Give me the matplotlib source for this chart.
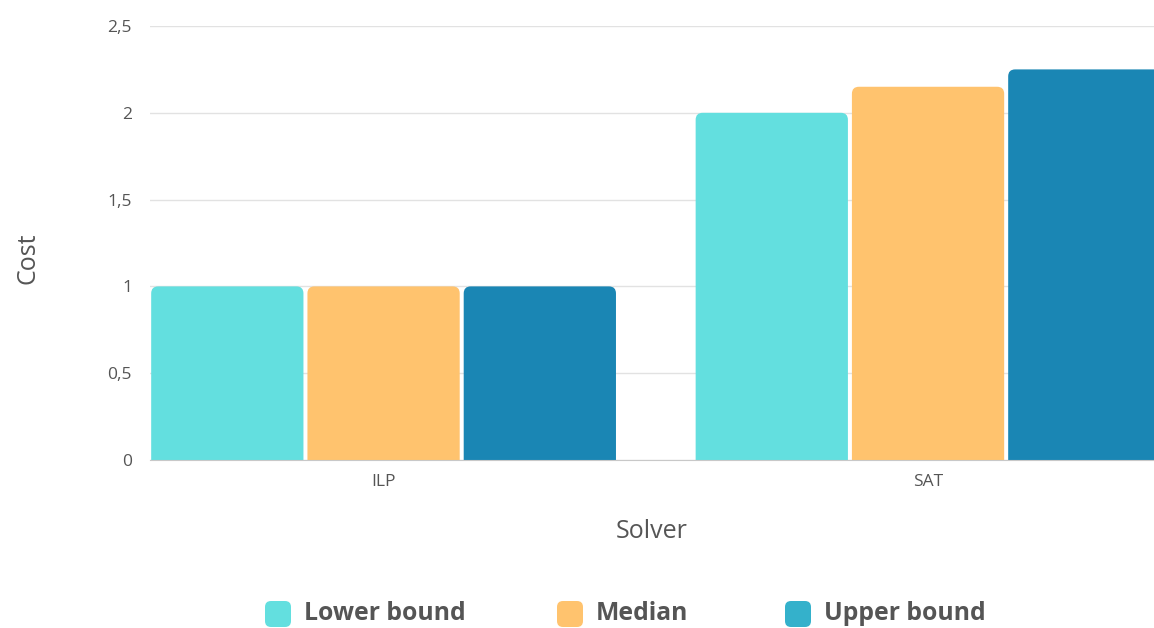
import numpy as np
from matplotlib import pyplot as plt
from matplotlib.patches import FancyBboxPatch

plt.rcParams['font.family'] = ['Open Sans', 'DejaVu Sans']

solvers = ['ILP', 'SAT']
series = ['Lower bound', 'Median', 'Upper bound']
lower = [1.0, 2.0]
median = [1.0, 2.15]
upper = [1.0, 2.25]
bar_colors = ['#63dfdf', '#ffc36e', '#1a86b4']
legend_colors = ['#63dfdf', '#ffc36e', '#34b1cb']
yticks = [0, 0.5, 1, 1.5, 2, 2.5]
ytick_labels = ['0', '0,5', '1', '1,5', '2', '2,5']

W, H = 1154, 628
fig = plt.figure(figsize=(W / 100, H / 100), dpi=100)
ax = fig.add_axes([150 / W, 1 - 460 / H, 1 - 150 / W, 434 / H])

x = np.arange(len(solvers))
slot = 0.287
xlim = (-0.429, 1.415)
ylim = (0, 2.5)
ax.set_xlim(*xlim)
ax.set_ylim(*ylim)

# pixel -> data scale so the corners come out round
bbox = ax.get_window_extent()
px_x = (xlim[1] - xlim[0]) / bbox.width
px_y = (ylim[1] - ylim[0]) / bbox.height
r = 7 * px_x

for i, vals in enumerate([lower, median, upper]):
    for xi, v in zip(x, vals):
        left = xi + (i - 1) * slot - slot / 2 + 2 * px_x
        w = slot - 4 * px_x
        p = FancyBboxPatch((left, -0.2), w, v + 0.2,
                           boxstyle=f'round,pad=0,rounding_size={r}',
                           mutation_aspect=px_y / px_x,
                           fc=bar_colors[i], ec='none', zorder=3)
        ax.add_patch(p)

ax.set_yticks(yticks)
ax.set_yticklabels(ytick_labels)
ax.set_xticks(x)
ax.set_xticklabels(solvers)
ax.grid(axis='y', color='#e2e2e2', linewidth=1, zorder=0)
ax.tick_params(length=0, labelsize=12.5, colors='#555555')
ax.tick_params(axis='y', pad=13)
ax.tick_params(axis='x', pad=10)
for s in ['top', 'right', 'left']:
    ax.spines[s].set_visible(False)
ax.spines['bottom'].set_color('#c8c8c8')
ax.spines['bottom'].set_zorder(4)

ax.set_xlabel('Solver', fontsize=18, color='#555555', labelpad=21)
ax.set_ylabel('Cost', fontsize=18, color='#555555')
ax.yaxis.set_label_coords(-110 / (W - 150), 0.465)

# legend with rounded swatches
leg_handle_x = [265, 557, 785]
for hx, c, s in zip(leg_handle_x, legend_colors, series):
    sw = FancyBboxPatch((hx / W, 1 - 627 / H), 26 / W, 26 / H,
                        boxstyle=f'round,pad=0,rounding_size={6 / W}',
                        mutation_aspect=W / H,
                        transform=fig.transFigure, fc=c, ec='none')
    fig.add_artist(sw)
    fig.text((hx + 39) / W, 1 - 614 / H, s, fontsize=17.8, fontweight='bold',
             color='#555555', va='center', ha='left')

fig.savefig('out.png', dpi=100)
